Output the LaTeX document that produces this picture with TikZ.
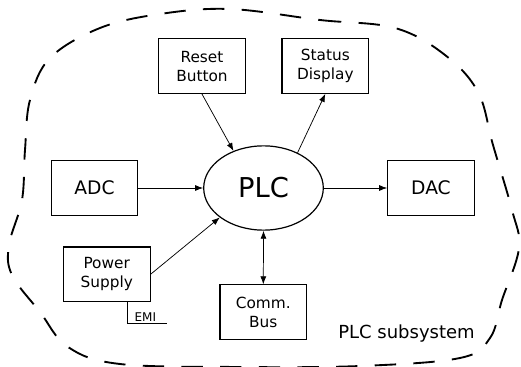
\documentclass[tikz,border=0pt]{standalone}
\usepackage{fontspec}
\setmainfont{DejaVu Sans}
\usetikzlibrary{arrows.meta,shapes.geometric}

\begin{document}
\begin{tikzpicture}
[x=0.75pt, y=-0.75pt,
  block/.style={draw, line width=0.8pt, minimum width=65pt, minimum height=41pt,
    inner sep=0pt, align=center, font=\fontsize{11.5}{14.25}\selectfont},
  bigblock/.style={block, font=\fontsize{14}{17}\selectfont},
  core/.style={draw, ellipse, line width=0.9pt, minimum width=89.7pt, minimum height=63.2pt,
    inner sep=0pt, font=\fontsize{20.5}{24}\selectfont},
  tip/.style={Latex[length=6pt,width=4.5pt]},
  link/.style={line width=0.55pt, -{Latex[length=6pt,width=4.5pt]}},
  boundary/.style={line width=1.4pt, dash pattern=on 16pt off 13pt}]
  \useasboundingbox (0,0) rectangle (521,367);
  \node[core] (plc) at (263.5,188) {PLC};
  \node[block] (reset) at (202,66.2) {Reset\\Button};
  \node[block] (status) at (325.3,66) {Status\\Display};
  \node[bigblock] (adc) at (94.5,188) {ADC};
  \node[bigblock] (dac) at (431,188) {DAC};
  \node[block] (power) at (106.7,274.3) {Power\\Supply};
  \node[block] (bus) at (263.3,312.2) {Comm.\\Bus};
  \draw[link] (reset.south) -- (plc.129);
  \draw[link] (plc.46) -- (status.south);
  \draw[link] (adc.east) -- (plc.west);
  \draw[link] (plc.east) -- (dac.west);
  \draw[link] (power.east) -- (plc.214);
  \draw[link, {Latex[length=6pt,width=4.5pt]}-{Latex[length=6pt,width=4.5pt]}] (plc.south) -- (bus.north);
  % EMI tag under the power supply
  \coordinate (emicorner) at (127.7,323.3);
  \coordinate (emiend) at (166.7,323.3);
  \draw[line width=0.6pt] (power.south -| emicorner) -- (emicorner) -- (emiend);
  \node[anchor=base west, inner sep=0pt, font=\fontsize{9}{10}\selectfont] (emi) at (134.3,321) {EMI};
  \node[anchor=base east, inner sep=0pt, font=\fontsize{13.5}{16}\selectfont] (sub) at (475,338.3) {PLC subsystem};
  \draw[boundary] plot[smooth cycle, tension=0.6] coordinates {
    (230,9) (320,20) (395,28) (445,55) (478,92) (493,145) (512,210)
    (519,248) (502,300) (490,338) (460,358) (360,366) (240,367) (120,364)
    (68,347) (40,312) (12,275) (9,245) (22,200) (25,150) (30,100)
    (50,58) (100,28) (160,14)};
\end{tikzpicture}
\end{document}
